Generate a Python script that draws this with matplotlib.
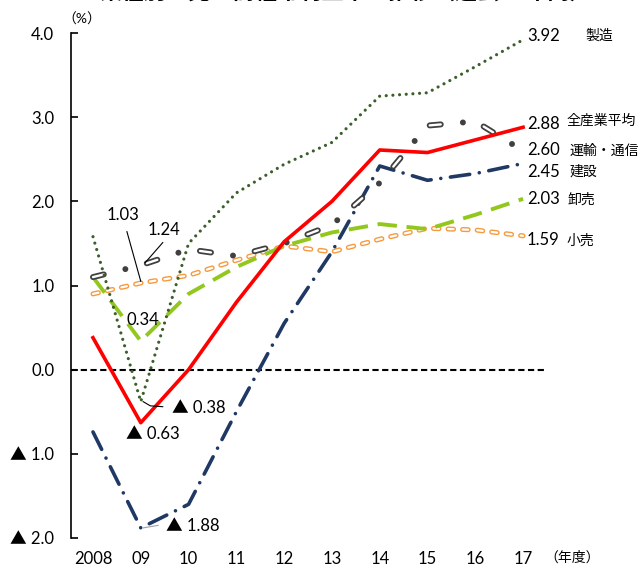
import matplotlib
matplotlib.use("Agg")
import matplotlib.pyplot as plt

plt.rcParams['font.family'] = ['Lato', 'Noto Sans CJK JP', 'DejaVu Sans']
plt.rcParams['lines.scale_dashes'] = False

# fiscal years and values (%)
years = ['2008', '09', '10', '11', '12', '13', '14', '15', '16', '17']
manufacturing = [1.58, -0.38, 1.50, 2.10, 2.44, 2.70, 3.25, 3.29, 3.60, 3.92]
all_industry = [0.38, -0.63, 0.00, 0.80, 1.52, 2.00, 2.61, 2.58, 2.73, 2.88]
transport = [1.10, 1.24, 1.43, 1.35, 1.50, 1.72, 2.22, 2.90, 2.95, 2.60]
construction = [-0.74, -1.88, -1.60, -0.50, 0.55, 1.40, 2.42, 2.25, 2.33, 2.45]
wholesale = [1.10, 0.34, 0.90, 1.22, 1.47, 1.63, 1.73, 1.67, 1.84, 2.03]
retail = [0.90, 1.03, 1.12, 1.30, 1.47, 1.40, 1.55, 1.68, 1.66, 1.59]

ytick_vals = [4, 3, 2, 1, 0, -1, -2]
ytick_labels = ['4.0', '3.0', '2.0', '1.0', '0.0', '▲ 1.0', '▲ 2.0']

x = list(range(len(years)))

fig = plt.figure(figsize=(6.4, 5.68), dpi=100)
ax = fig.add_axes([71 / 640, 30 / 568, 476 / 640, 505 / 568])

# zero line
ax.axhline(0, color='black', lw=1.5, dashes=(4.5, 2.5), zorder=1)

# retail: outlined orange dashes
ax.plot(x, retail, color='#F79A3E', lw=3.6, dashes=(4, 6.5),
        dash_capstyle='round', zorder=2)
ax.plot(x, retail, color='white', lw=1.6, dashes=(4, 6.5),
        dash_capstyle='round', zorder=2)

# wholesale
ax.plot(x, wholesale, color='#92C81E', lw=2.8, dashes=(14, 7), zorder=3)

# construction: dash-dot
ax.plot(x, construction, color='#1F3864', lw=2.6, dashes=(14, 7, 0.01, 7),
        dash_capstyle='round', zorder=4)

# transport/communication: outlined dashes with dots
ax.plot(x, transport, color='#404040', lw=4.3, dashes=(8, 16, 0.01, 16),
        dash_capstyle='round', zorder=5)
ax.plot(x, transport, color='white', lw=1.7, dashes=(8, 32.01),
        dash_capstyle='round', zorder=5)

# manufacturing: round dots
ax.plot(x, manufacturing, color='#3B5E2B', lw=2.3, dashes=(0.01, 4.8),
        dash_capstyle='round', zorder=6)

# all industries average
ax.plot(x, all_industry, color='#FF0000', lw=2.6, zorder=7)

ax.set_xlim(-0.46, 9.5)
ax.set_ylim(-2, 4)
ax.set_xticks(x)
ax.set_xticklabels(years, fontsize=12)
ax.set_yticks(ytick_vals)
ax.set_yticklabels(ytick_labels, fontsize=12)
ax.tick_params(axis='x', length=0, pad=9)
ax.tick_params(axis='y', direction='in', length=5, width=1.2, pad=12)
for s in ['top', 'right', 'bottom']:
    ax.spines[s].set_visible(False)
ax.spines['left'].set_linewidth(1.2)

# right-hand value labels and series names
end_labels = [
    ('3.92', 3.96, '製造', 10.3, 3.98),
    ('2.88', 2.92, '全産業平均', 9.9, 2.96),
    ('2.60', 2.61, '運輸・通信', 9.98, 2.61),
    ('2.45', 2.35, '建設', 9.98, 2.36),
    ('2.03', 2.03, '卸売', 9.94, 2.03),
    ('1.59', 1.54, '小売', 9.9, 1.54),
]
for val, vy, name, nx, ny in end_labels:
    ax.text(9.08, vy, val, fontsize=12, ha='left', va='center', clip_on=False)
    ax.text(nx, ny, name, fontsize=10, ha='left', va='center', clip_on=False)

# annotations for 2009
ax.text(0.63, 1.84, '1.03', fontsize=12, ha='center', va='center')
ax.plot([0.71, 1.0], [1.64, 1.05], color='black', lw=0.8, zorder=8)
ax.text(1.49, 1.66, '1.24', fontsize=12, ha='center', va='center')
ax.plot([1.46, 1.09], [1.51, 1.27], color='black', lw=0.8, zorder=8)
ax.text(1.05, 0.59, '0.34', fontsize=12, ha='center', va='center')
ax.text(1.65, -0.46, '▲ 0.38', fontsize=12, ha='left', va='center')
ax.plot([1.05, 1.2, 1.46], [-0.38, -0.43, -0.44], color='black', lw=0.8, zorder=8)
ax.text(0.69, -0.77, '▲ 0.63', fontsize=12, ha='left', va='center')
ax.text(1.53, -1.86, '▲ 1.88', fontsize=12, ha='left', va='center')
ax.plot([1.05, 1.36], [-1.88, -1.85], color='#A0A0A0', lw=0.8, zorder=8)

fig.text(82 / 640, 1 - 19 / 568, '（%）', fontsize=10, ha='center', va='center')
fig.text(572 / 640, 1 - 557 / 568, '（年度）', fontsize=10, ha='center', va='center')

# title (cut off at the top edge)
fig.text(0.54, 1.014, '業種別の売上高経常利益率の推移（過去10年間）', fontsize=16,
         fontweight='bold', ha='center', va='center')

fig.savefig('out.png', dpi=100)
